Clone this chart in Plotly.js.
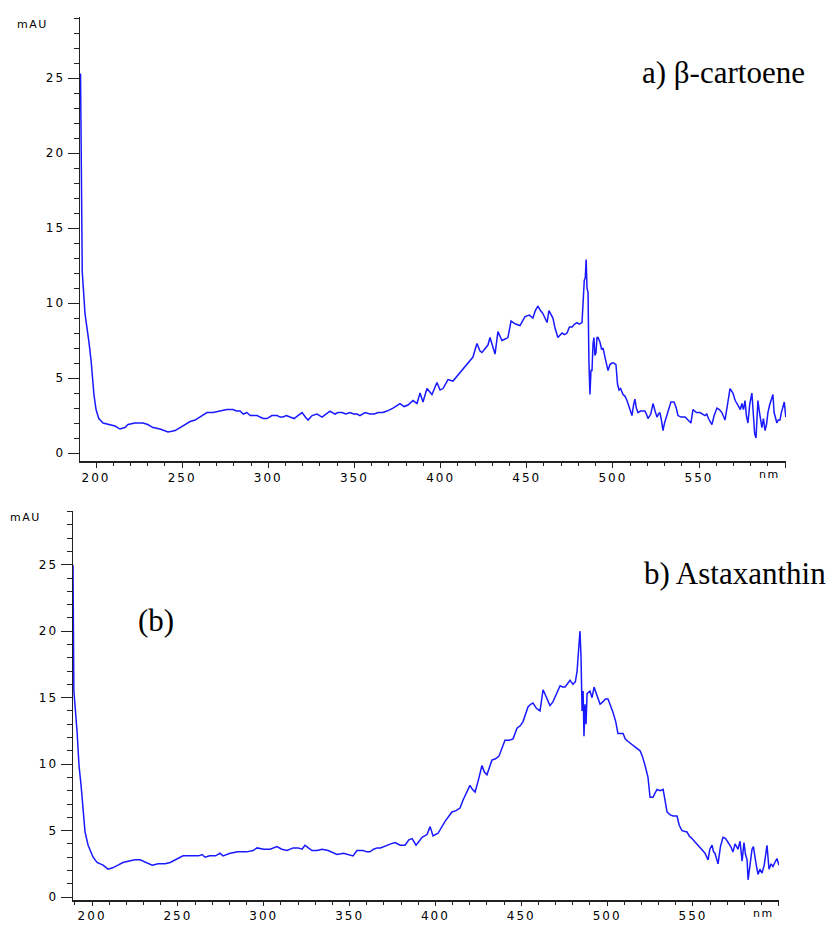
<!DOCTYPE html>
<html>
<head>
<meta charset="utf-8">
<script src="https://cdn.plot.ly/plotly-3.0.1.min.js"></script>
<style>
  html, body { margin: 0; padding: 0; background: #ffffff; }
  #chart { width: 834px; height: 926px; }
  .xtick text, .ytick text, .x2tick text, .y2tick text { letter-spacing: 2px; }
  text[data-unformatted="mAU"], text[data-unformatted="nm"] { letter-spacing: 1.5px; }
</style>
</head>
<body>
<div id="chart"></div>
<script>
// ---- a) beta-carotene spectrum (wavelength nm, absorbance mAU) ----
const topNm = [191.0,191.3,191.5,192.0,193.6,195.0,195.9,197.1,197.7,198.8,200.0,201.6,204.1,208.1,211.0,213.9,216.8,218.6,222.6,225.0,227.3,230.0,233.1,237.1,239.5,241.8,244.0,245.9,248.8,251.5,254.6,257.5,260.4,262.5,264.4,268.0,272.0,276.0,279.5,281.5,283.6,285.5,287.6,289.5,291.1,293.5,295.2,297.0,299.2,301.0,302.1,305.1,306.8,308.5,310.5,312.6,315.0,317.2,319.6,321.5,323.1,325.4,328.3,331.2,333.5,335.8,338.7,340.5,342.8,345.0,347.4,349.5,351.5,353.2,356.1,359.0,361.5,363.7,366.5,368.9,372.4,376.4,378.8,381.1,384.0,386.3,388.1,389.8,392.1,395.0,397.9,399.7,401.4,404.3,407.2,410.0,413.0,416.0,418.8,421.1,422.9,424.0,425.8,427.5,428.7,430.4,431.6,433.3,435.6,437.5,439.1,440.9,443.5,446.1,449.0,451.5,453.6,455.0,456.5,458.0,459.4,461.0,461.8,462.9,464.0,465.2,466.5,468.1,470.5,472.0,473.4,474.8,476.3,477.8,479.2,480.5,482.1,482.7,483.4,484.0,484.5,485.0,485.6,486.1,486.7,487.3,487.9,488.5,489.0,489.6,490.2,490.8,491.4,492.5,493.5,494.3,495.2,496.0,497.2,498.3,499.5,500.5,501.8,502.7,503.6,504.5,505.9,507.0,508.2,509.5,510.2,511.1,512.0,512.8,513.6,514.6,516.0,517.5,518.6,519.5,520.4,522.0,523.3,524.5,525.6,526.5,527.3,528.2,529.1,530.0,531.4,532.5,533.7,535.5,536.8,537.8,539.5,541.9,543.6,545.3,546.5,548.5,550.6,552.0,553.5,554.5,555.5,557.5,558.8,560.4,561.8,563.3,565.1,566.5,568.0,569.7,571.0,572.6,574.0,574.9,575.8,576.7,577.5,578.4,579.5,580.7,581.5,582.3,583.1,583.7,584.2,585.0,585.8,586.5,587.4,588.3,589.2,590.0,591.0,592.0,592.9,593.6,594.2,595.2,596.0,597.0,597.8,598.7,599.5,600.4];
const topAbs = [25.3,20.0,15.6,12.1,9.3,8.2,7.4,6.2,5.3,3.9,2.9,2.3,2.0,1.9,1.8,1.6,1.7,1.9,2.0,2.0,2.0,1.9,1.7,1.6,1.5,1.4,1.45,1.5,1.7,1.9,2.1,2.2,2.4,2.6,2.7,2.7,2.8,2.9,2.9,2.8,2.8,2.6,2.7,2.5,2.5,2.5,2.4,2.3,2.3,2.4,2.5,2.5,2.4,2.4,2.5,2.4,2.3,2.5,2.7,2.4,2.2,2.5,2.6,2.4,2.6,2.8,2.6,2.7,2.7,2.6,2.7,2.6,2.6,2.5,2.7,2.6,2.6,2.7,2.7,2.8,3.0,3.3,3.1,3.2,3.5,3.3,4.0,3.4,4.3,3.9,4.7,4.2,4.3,4.9,4.8,5.2,5.6,6.0,6.4,7.3,6.8,6.7,7.0,7.2,7.7,7.0,6.6,8.1,7.5,7.6,7.7,8.8,8.6,8.5,9.1,9.2,9.0,9.5,9.8,9.5,9.3,8.9,8.7,9.5,9.2,9.0,8.3,7.7,8.0,7.9,8.0,8.4,8.4,8.6,8.7,8.6,8.7,9.9,11.5,11.7,12.9,11.0,10.7,6.1,3.9,5.5,5.5,7.3,7.7,6.5,6.7,7.7,7.7,7.4,6.9,7.0,6.4,6.1,5.5,5.9,6.0,6.0,5.9,4.6,4.2,4.3,3.9,3.8,3.5,3.1,2.8,2.5,3.2,3.6,3.0,2.7,2.8,2.8,2.8,2.6,2.3,2.6,3.3,2.8,2.4,2.6,2.7,2.2,1.5,2.0,2.5,3.0,3.4,3.4,3.0,2.5,2.4,2.4,2.2,2.0,2.9,2.7,2.7,2.6,2.5,2.6,2.3,1.9,2.5,3.0,2.9,2.7,2.2,3.2,4.3,4.0,3.5,3.2,2.9,3.3,2.9,3.5,2.5,2.0,3.3,4.0,2.4,1.3,1.0,2.2,3.5,2.8,2.1,1.7,2.3,1.5,1.9,2.7,3.2,3.5,3.9,2.7,2.4,2.0,2.2,2.2,2.7,3.2,3.4,2.4];

// ---- b) astaxanthin spectrum ----
const botNm = [188.9,189.2,189.4,191.3,192.4,193.6,194.8,195.9,197.7,200.6,202.9,206.4,209.3,212.0,215.1,218.0,221.0,225.0,228.0,231.5,235.0,238.5,242.5,245.5,248.3,253.0,258.2,262.0,264.1,265.8,268.5,272.0,274.5,276.3,280.4,285.0,290.0,293.8,296.1,300.0,303.7,307.7,310.5,313.6,317.1,320.0,322.3,324.0,326.0,328.1,331.0,334.0,337.5,340.4,342.7,346.5,349.5,352.0,354.3,357.8,360.0,361.9,364.0,366.0,368.0,371.5,374.0,376.5,379.5,382.3,384.5,386.4,388.7,390.5,392.2,395.1,396.9,398.6,401.5,405.6,409.6,412.0,414.3,416.1,418.0,420.1,421.5,423.1,425.0,427.1,428.5,430.0,432.9,435.0,437.0,439.0,440.5,443.0,445.2,447.5,449.5,451.0,452.5,453.9,455.5,456.8,458.8,460.9,462.7,464.5,466.7,468.5,470.5,472.6,474.0,475.5,478.4,480.1,481.5,482.5,483.6,484.2,484.8,485.4,486.0,486.5,487.1,487.7,488.3,490.0,491.2,492.4,494.0,495.9,497.6,499.0,500.5,502.0,503.4,505.0,506.3,509.3,510.5,512.2,514.0,516.2,519.2,520.5,522.1,523.8,525.0,526.7,527.8,529.1,531.0,532.6,534.9,536.5,538.4,540.7,542.0,543.6,546.5,547.8,549.4,551.0,552.9,555.0,557.0,558.8,559.8,561.1,562.0,562.8,563.6,564.6,566.0,567.5,569.0,570.4,572.0,573.3,574.5,576.2,577.4,578.6,579.7,580.6,581.5,582.1,583.2,584.4,585.2,586.1,587.0,587.9,589.0,590.2,591.5,593.1,594.3,595.5,596.6,597.7,598.9,600.1];
const botAbs = [25.0,20.0,15.5,12.4,9.9,8.4,6.4,4.9,3.9,3.0,2.6,2.4,2.1,2.2,2.4,2.6,2.7,2.8,2.8,2.6,2.4,2.5,2.5,2.6,2.8,3.1,3.1,3.1,3.2,3.0,3.1,3.1,3.3,3.1,3.3,3.4,3.4,3.5,3.7,3.6,3.6,3.8,3.6,3.5,3.7,3.7,3.6,3.9,3.7,3.5,3.5,3.6,3.5,3.3,3.2,3.3,3.2,3.1,3.5,3.5,3.4,3.4,3.6,3.7,3.7,3.9,4.0,4.1,3.9,3.9,4.3,4.4,3.9,4.2,4.5,4.7,5.3,4.6,4.8,5.7,6.4,6.5,6.7,7.3,7.8,8.4,8.1,7.9,8.8,9.9,9.4,9.2,10.3,10.4,10.6,11.3,11.8,11.8,11.9,12.7,12.9,13.2,13.7,14.3,14.5,14.6,14.2,14.0,15.6,15.0,14.4,14.7,15.3,15.9,15.8,15.8,16.3,16.0,16.2,17.0,19.0,20.0,18.0,14.0,15.5,12.1,14.5,13.0,15.3,15.5,15.0,15.8,15.2,14.5,14.7,14.9,14.9,14.4,13.9,13.2,12.3,12.3,11.9,11.7,11.5,11.3,11.0,10.6,9.9,9.0,7.5,7.5,7.8,8.1,8.0,8.1,6.4,6.2,6.1,6.1,5.4,5.0,4.9,4.6,4.4,4.2,3.9,3.6,3.3,2.8,3.6,3.9,3.4,3.3,2.9,2.5,3.8,4.5,4.4,4.1,3.8,3.4,4.0,3.6,4.2,2.7,4.1,3.2,2.8,1.3,2.5,3.6,3.8,2.9,2.3,1.7,2.1,1.8,2.4,3.9,2.1,2.5,2.3,2.6,2.9,2.4];

// ---- axis tick labels ----
const xTickVals = [200, 250, 300, 350, 400, 450, 500, 550, 600];
const xTickText = ['200', '250', '300', '350', '400', '450', '500', '550', ''];
const yTickVals = [0, 5, 10, 15, 20, 25];
const yTickText = ['0', '5', '10', '15', '20', '25'];

const W = 834, H = 926;
const px = v => v / W;
const py = v => 1 - v / H;

const lineStyle = { color: 'rgb(25,25,255)', width: 1.5 };
const data = [
  { x: topNm, y: topAbs, type: 'scatter', mode: 'lines', line: lineStyle, xaxis: 'x', yaxis: 'y', hoverinfo: 'skip' },
  { x: botNm, y: botAbs, type: 'scatter', mode: 'lines', line: lineStyle, xaxis: 'x2', yaxis: 'y2', hoverinfo: 'skip' }
];

const tickFont = { family: 'DejaVu Sans, Liberation Sans, Arial', size: 12, color: '#000' };
function xAxis(domain, range, anchor, len) {
  return {
    domain: domain, range: range, anchor: anchor,
    tickmode: 'array', tickvals: xTickVals, ticktext: xTickText,
    ticks: 'outside', ticklen: len, tickwidth: 1, tickcolor: '#222',
    minor: { ticks: 'outside', ticklen: 3, tickwidth: 1, tickcolor: '#222', dtick: 10, tick0: 0, showgrid: false },
    showline: true, linecolor: '#222', linewidth: 1.5,
    showgrid: false, zeroline: false, tickfont: tickFont, fixedrange: true
  };
}
function yAxis(domain, range, anchor) {
  return {
    domain: domain, range: range, anchor: anchor,
    tickmode: 'array', tickvals: yTickVals, ticktext: yTickText,
    ticks: 'outside', ticklen: 11, tickwidth: 1, tickcolor: '#222',
    minor: { ticks: 'outside', ticklen: 5, tickwidth: 1, tickcolor: '#222', dtick: 1, tick0: 0, showgrid: false },
    showline: true, linecolor: '#222', linewidth: 1.5,
    showgrid: false, zeroline: false, tickfont: tickFont, fixedrange: true
  };
}

const serif = { family: 'Liberation Serif, Times New Roman, serif', size: 31, color: '#000' };
const small = { family: 'DejaVu Sans, Liberation Sans, Arial', size: 11, color: '#000' };

const layout = {
  width: W, height: H,
  margin: { l: 0, r: 0, t: 0, b: 0 },
  paper_bgcolor: '#ffffff', plot_bgcolor: '#ffffff',
  showlegend: false,
  xaxis: xAxis([px(80), px(786)], [190.7, 600.5], 'y', 5),
  yaxis: yAxis([py(461), py(17)], [-0.53, 29.07], 'x'),
  xaxis2: xAxis([px(73), px(779)], [188.9, 600.1], 'y2', 4),
  yaxis2: yAxis([py(900), py(511)], [-0.22, 29.04], 'x2'),
  annotations: [
    { text: 'a) β-cartoene', xref: 'paper', yref: 'paper', x: px(640), y: py(72), xanchor: 'left', yanchor: 'middle', showarrow: false, font: serif },
    { text: 'b) Astaxanthin', xref: 'paper', yref: 'paper', x: px(642), y: py(573), xanchor: 'left', yanchor: 'middle', showarrow: false, font: serif },
    { text: '(b)', xref: 'paper', yref: 'paper', x: px(136), y: py(620), xanchor: 'left', yanchor: 'middle', showarrow: false, font: serif },
    { text: 'mAU', xref: 'paper', yref: 'paper', x: px(15), y: py(24), xanchor: 'left', yanchor: 'middle', showarrow: false, font: small },
    { text: 'mAU', xref: 'paper', yref: 'paper', x: px(8), y: py(517), xanchor: 'left', yanchor: 'middle', showarrow: false, font: small },
    { text: 'nm', xref: 'paper', yref: 'paper', x: px(757), y: py(475), xanchor: 'left', yanchor: 'middle', showarrow: false, font: small },
    { text: 'nm', xref: 'paper', yref: 'paper', x: px(751), y: py(913), xanchor: 'left', yanchor: 'middle', showarrow: false, font: small }
  ]
};

Plotly.newPlot('chart', data, layout, { staticPlot: true, displayModeBar: false });
</script>
</body>
</html>
